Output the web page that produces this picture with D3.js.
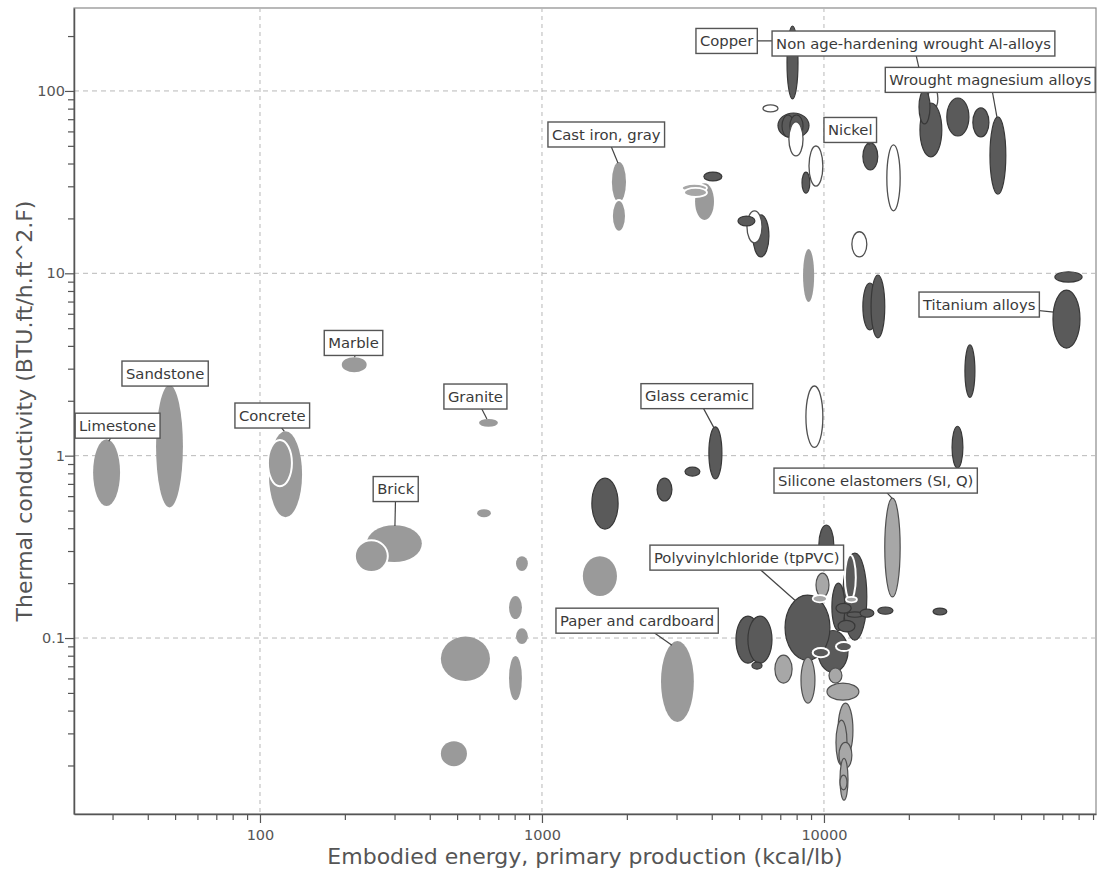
<!DOCTYPE html>
<html>
<head>
<meta charset="utf-8">
<script src="https://cdn.jsdelivr.net/npm/d3@7"></script>
<style>
  body { margin: 0; background: #fff; }
  svg { display: block; font-family: "DejaVu Sans", Verdana, sans-serif; }
</style>
</head>
<body>
<svg id="chart" width="1100" height="880"></svg>
<script>
// Each bubble: [energy lo, energy hi (kcal/lb), conductivity lo, conductivity hi (BTU.ft/h.ft^2.F), family]
// family: m = stone/ceramic, d = metal/technical, l = polymer, w = open (white), *w = white rim
const stoneBubbles = [
  [25.6, 31.9, 0.53, 1.23, "m"],      // limestone
  [42.8, 53.3, 0.52, 2.44, "m"],      // sandstone
  [107.6, 141, 0.46, 1.36, "m"],      // concrete
  [106.7, 129.8, 0.68, 1.22, "mw"],
  [195, 239, 2.87, 3.47, "m"],        // marble
  [598, 698, 1.44, 1.59, "m"],        // granite
  [239, 375, 0.261, 0.416, "m"],      // brick
  [217, 284, 0.230, 0.344, "mw"],
  [589, 659, 0.460, 0.509, "m"],
  [809, 891, 0.233, 0.281, "m"],
  [1396, 1845, 0.170, 0.281, "m"],
  [2643, 3456, 0.0346, 0.0962, "m"],  // paper and cardboard
  [438, 654, 0.0581, 0.102, "m"],
  [438, 542, 0.0198, 0.0272, "m"],
  [764, 849, 0.0456, 0.0796, "m"],
  [809, 891, 0.0927, 0.113, "m"],
  [764, 849, 0.127, 0.170, "m"],
  [8430, 9230, 6.97, 13.6, "m"]
];

const metalBubbles = [
  [1770, 1986, 24.6, 40.8, "m"],      // cast iron, gray
  [1770, 1986, 16.9, 25.2, "mw"],
  [3491, 4074, 19.6, 31.2, "m"],
  [3133, 3847, 27.9, 30.9, "lw"],
  [3190, 3847, 26.2, 29.4, "lw"],
  [3751, 4346, 32.1, 35.9, "d"],
  [1503, 1862, 0.396, 0.753, "d"],
  [2560, 2890, 0.564, 0.753, "d"],
  [3215, 3631, 0.773, 0.865, "d"],
  [3908, 4346, 0.745, 1.44, "d"],     // glass ceramic
  [5598, 6380, 12.3, 20.9, "d"],
  [5333, 6030, 14.7, 22.0, "w"],
  [4955, 5690, 18.2, 20.6, "d"],
  [7396, 8090, 90.4, 227, "d"],       // copper
  [6078, 6870, 76.8, 83.8, "w"],
  [6870, 8850, 55.2, 75.7, "d"],
  [7100, 7830, 56.0, 73.8, "d"],
  [7570, 8430, 56.0, 73.8, "d"],
  [7510, 8430, 44.0, 67.6, "w"],
  [8850, 9910, 30.1, 49.9, "w"],
  [8360, 8910, 27.5, 35.9, "d"],
  [12560, 14190, 12.3, 16.9, "w"],
  [13740, 15520, 36.9, 51.9, "d"],    // nickel
  [16710, 18630, 22.0, 50.6, "w"],
  [23390, 25350, 78.7, 105, "w"],
  [21900, 26180, 43.5, 85.9, "d"],
  [21730, 23770, 65.9, 101, "d"],     // wrought Al-alloys
  [27270, 32660, 56.6, 91.5, "d"],
  [33730, 38460, 56.0, 80.7, "d"],
  [38790, 44150, 27.2, 72.0, "d"],    // wrought magnesium
  [13740, 15400, 4.89, 8.85, "d"],
  [14690, 16430, 4.42, 9.79, "d"],
  [64890, 80900, 3.89, 8.09, "d"],    // titanium
  [65900, 82300, 8.95, 10.2, "d"],
  [31620, 34300, 2.09, 4.05, "d"],
  [28460, 31100, 0.855, 1.45, "d"],
  [8630, 9910, 1.11, 2.41, "w"]
];

const polymerBubbles = [
  [16430, 18630, 0.168, 0.585, "l"],  // silicone elastomers
  [9590, 10840, 0.251, 0.416, "d"],
  [11670, 14190, 0.0973, 0.292, "d"],
  [11860, 12970, 0.162, 0.285, "dw"],
  [10670, 11860, 0.110, 0.200, "d"],
  [9520, 12170, 0.0650, 0.110, "d"],
  [7278, 10500, 0.0757, 0.172, "d"],  // PVC
  [9370, 10420, 0.168, 0.227, "l"],
  [9120, 10250, 0.157, 0.172, "lw"],
  [11030, 12490, 0.137, 0.155, "d"],
  [12070, 13740, 0.130, 0.139, "d"],
  [13430, 15030, 0.130, 0.144, "d"],
  [11220, 12880, 0.108, 0.125, "d"],
  [11970, 13090, 0.157, 0.168, "lw"],
  [15520, 17570, 0.135, 0.148, "d"],
  [24370, 27270, 0.134, 0.146, "d"],
  [9120, 10420, 0.0785, 0.0881, "dw"],
  [11030, 12560, 0.0848, 0.0951, "dw"],
  [4875, 5929, 0.0728, 0.132, "d"],
  [5374, 6542, 0.0728, 0.132, "d"],
  [5554, 6030, 0.0675, 0.0738, "d"],
  [6699, 7710, 0.0566, 0.0806, "l"],
  [8290, 9290, 0.0440, 0.0785, "l"],
  [10420, 11580, 0.0566, 0.0685, "l"],
  [10250, 13300, 0.0456, 0.0566, "l"],
  [11220, 12670, 0.0222, 0.0440, "l"],
  [11030, 12070, 0.0201, 0.0355, "l"],
  [11300, 12560, 0.0193, 0.0268, "l"],
  [11400, 12170, 0.0129, 0.0219, "l"],
  [11400, 12070, 0.0147, 0.0177, "l"]
];

// [text, box left energy, box mid conductivity, leader target energy, leader target conductivity]
const labels = [
  ["Copper", 3516, 188, 7575, 188],
  ["Non age-hardening wrought Al-alloys", 6546, 182, 22630, 101],
  ["Wrought magnesium alloys", 16500, 115, 41050, 72],
  ["Nickel", 10000, 61.1, 14560, 50.5],
  ["Cast iron, gray", 1050, 57.7, 1860, 40.3],
  ["Titanium alloys", 21730, 6.74, 65400, 6.13],
  ["Marble", 169, 4.15, 217, 3.47],
  ["Sandstone", 32.4, 2.82, 48, 2.44],
  ["Limestone", 22.1, 1.46, 29.1, 1.20],
  ["Concrete", 81.5, 1.66, 122, 1.36],
  ["Granite", 449, 2.11, 638, 1.59],
  ["Brick", 252, 0.656, 301, 0.411],
  ["Glass ceramic", 2244, 2.12, 4074, 1.42],
  ["Silicone elastomers (SI, Q)", 6650, 0.730, 17420, 0.585],
  ["Polyvinylchloride (tpPVC)", 2415, 0.276, 7890, 0.161],
  ["Paper and cardboard", 1121, 0.1245, 2891, 0.0914]
];

const xDecades = [100, 1000, 10000];
const yDecades = [0.1, 1, 10, 100];
const xTitle = "Embodied energy, primary production (kcal/lb)";
const yTitle = "Thermal conductivity (BTU.ft/h.ft^2.F)";

const W = 1100, H = 880;
const margin = { top: 8, right: 4, bottom: 66, left: 74 };

const styles = {
  m:  { fill: "#9a9a9a", stroke: "none", sw: 0 },
  mw: { fill: "#9a9a9a", stroke: "#ffffff", sw: 2 },
  d:  { fill: "#5a5a5a", stroke: "#383838", sw: 1.2 },
  dw: { fill: "#5a5a5a", stroke: "#ffffff", sw: 2 },
  l:  { fill: "#a7a7a7", stroke: "#505050", sw: 1.2 },
  lw: { fill: "#a7a7a7", stroke: "#ffffff", sw: 1.8 },
  w:  { fill: "#ffffff", stroke: "#505050", sw: 1.3 }
};

const svg = d3.select("#chart");

const x = d3.scaleLog()
  .domain([21.9, 92200])
  .range([margin.left, W - margin.right]);
const y = d3.scaleLog()
  .domain([0.01084, 285])
  .range([H - margin.bottom, margin.top]);

const [x0, x1] = x.range();
const [y0, y1] = [y.range()[1], y.range()[0]];

// frame (top and right edges)
svg.append("rect")
  .attr("x", x0).attr("y", y0)
  .attr("width", x1 - x0).attr("height", y1 - y0)
  .attr("fill", "none")
  .attr("stroke", "#8a8a8a")
  .attr("stroke-width", 1.2);

// decade gridlines
const grid = svg.append("g").attr("class", "grid");
grid.selectAll(".gx")
  .data(xDecades)
  .enter()
  .append("line")
  .attr("x1", (d) => x(d)).attr("x2", (d) => x(d))
  .attr("y1", y0).attr("y2", y1)
  .attr("stroke", "#b8b8b8")
  .attr("stroke-dasharray", "4,4");
grid.selectAll(".gy")
  .data(yDecades)
  .enter()
  .append("line")
  .attr("x1", x0).attr("x2", x1)
  .attr("y1", (d) => y(d)).attr("y2", (d) => y(d))
  .attr("stroke", "#b8b8b8")
  .attr("stroke-dasharray", "5,4");

// bubbles
const bubbles = stoneBubbles.concat(metalBubbles, polymerBubbles);
svg.append("g")
  .attr("class", "bubbles")
  .selectAll("ellipse")
  .data(bubbles)
  .enter()
  .append("ellipse")
  .attr("cx", (d) => (x(d[0]) + x(d[1])) / 2)
  .attr("cy", (d) => (y(d[2]) + y(d[3])) / 2)
  .attr("rx", (d) => (x(d[1]) - x(d[0])) / 2)
  .attr("ry", (d) => (y(d[2]) - y(d[3])) / 2)
  .attr("fill", (d) => styles[d[4]].fill)
  .attr("stroke", (d) => styles[d[4]].stroke)
  .attr("stroke-width", (d) => styles[d[4]].sw);

// labels: leader from box centre to target, box drawn on top
const boxH = 25, pad = 4;
const lab = svg.append("g").attr("class", "labels");
labels.forEach((l) => {
  const g = lab.append("g");
  const left = x(l[1]);
  const mid = y(l[2]);
  const line = g.append("line");
  const rect = g.append("rect");
  const txt = g.append("text")
    .attr("x", left + pad)
    .attr("y", mid)
    .attr("dy", "0.36em")
    .attr("font-size", 14.8)
    .attr("fill", "#3a3a3a")
    .text(l[0]);
  const tw = txt.node().getComputedTextLength();
  rect.attr("x", left).attr("y", mid - boxH / 2)
    .attr("width", tw + pad * 2).attr("height", boxH)
    .attr("fill", "#fff")
    .attr("stroke", "#555")
    .attr("stroke-width", 1.4);
  line.attr("x1", left + (tw + pad * 2) / 2).attr("y1", mid)
    .attr("x2", x(l[3])).attr("y2", y(l[4]))
    .attr("stroke", "#444")
    .attr("stroke-width", 1.2);
});

// axes
const fmt = (d) => String(+d.toPrecision(6));
const isDecade = (d) => Math.abs(Math.log10(d) - Math.round(Math.log10(d))) < 1e-6;

const xAxis = d3.axisBottom(x)
  .tickValues(x.ticks())
  .tickFormat((d) => (isDecade(d) ? fmt(d) : ""))
  .tickSize(6)
  .tickSizeOuter(0)
  .tickPadding(10);
const yAxis = d3.axisLeft(y)
  .tickValues(y.ticks())
  .tickFormat((d) => (isDecade(d) ? fmt(d) : ""))
  .tickSize(6)
  .tickSizeOuter(0)
  .tickPadding(3);

const gx = svg.append("g")
  .attr("transform", `translate(0,${y1})`)
  .call(xAxis);
const gy = svg.append("g")
  .attr("transform", `translate(${x0},0)`)
  .call(yAxis);

[gx, gy].forEach((g) => {
  g.select(".domain").attr("stroke", "#555").attr("stroke-width", 1.5);
  g.selectAll(".tick line").attr("stroke", "#555").attr("stroke-width", 1.2);
  g.selectAll(".tick text")
    .attr("font-family", "DejaVu Sans, Verdana, sans-serif")
    .attr("font-size", 14.5)
    .attr("fill", "#555");
});
gx.selectAll(".tick line").filter((d) => isDecade(d)).attr("y2", 9);
gy.selectAll(".tick line").filter((d) => isDecade(d)).attr("x2", -9);

// axis titles
svg.append("text")
  .attr("x", 585)
  .attr("y", 864)
  .attr("text-anchor", "middle")
  .attr("font-size", 22)
  .attr("fill", "#555")
  .text(xTitle);
svg.append("text")
  .attr("transform", "translate(32,411) rotate(-90)")
  .attr("text-anchor", "middle")
  .attr("font-size", 22)
  .attr("fill", "#555")
  .text(yTitle);
</script>
</body>
</html>
